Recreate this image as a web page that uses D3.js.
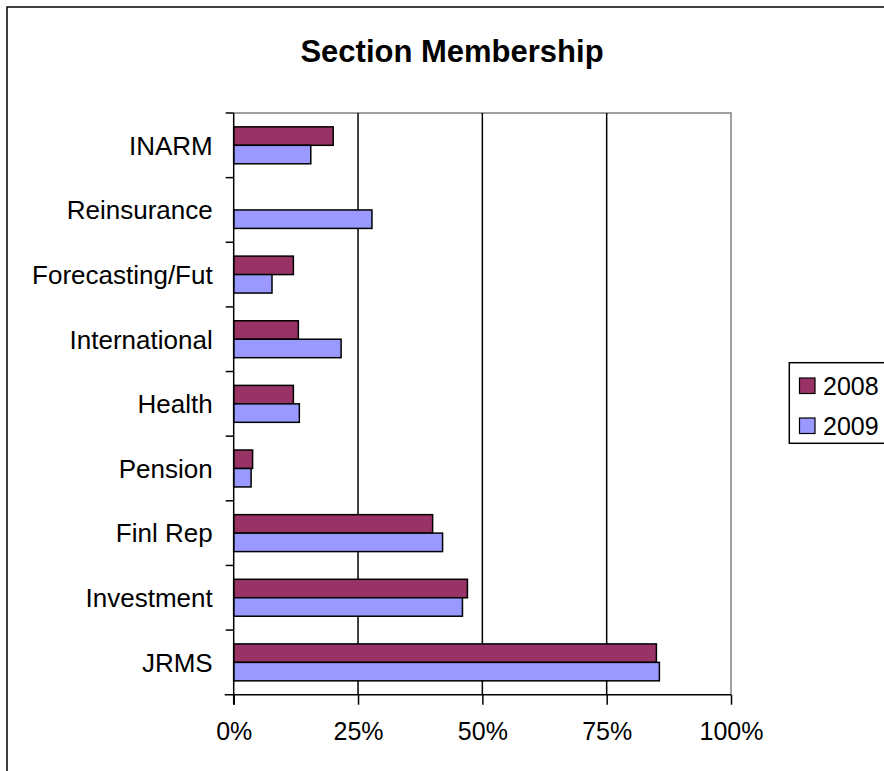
<!DOCTYPE html>
<html>
<head>
<meta charset="utf-8">
<script src="https://cdn.jsdelivr.net/npm/d3@7"></script>
<style>
  html, body { margin: 0; padding: 0; background: #fff; }
  svg { display: block; font-family: "Liberation Sans", Arial, sans-serif; }
</style>
</head>
<body>
<svg id="chart" width="884" height="771"></svg>
<script>
// Section membership by year, shares of total membership
const categories = ["INARM", "Reinsurance", "Forecasting/Fut", "International", "Health", "Pension", "Finl Rep", "Investment", "JRMS"];
const seriesNames = ["2008", "2009"];
const values2008 = [0.20, null, 0.12, 0.13, 0.12, 0.038, 0.40, 0.47, 0.85];
const values2009 = [0.155, 0.278, 0.077, 0.216, 0.132, 0.035, 0.42, 0.46, 0.856];
const xTicks = [0, 0.25, 0.5, 0.75, 1];
const colors = ["#993366", "#9999FF"];

const svg = d3.select("#chart");

// outer chart frame
svg.append("rect")
  .attr("x", 7).attr("y", 7).attr("width", 900).attr("height", 800)
  .attr("fill", "#fff").attr("stroke", "#000").attr("stroke-width", 1.5);

const plot = { left: 233.7, right: 731, top: 113, bottom: 694.7 };

const x = d3.scaleLinear().domain([0, 1]).range([plot.left, plot.right]);
const y = d3.scaleBand().domain(categories).range([plot.top, plot.bottom])
  .paddingInner(1.5 / 3.5).paddingOuter(0.75 / 3.5);
const ySeries = d3.scaleBand().domain(seriesNames).range([0, y.bandwidth()]);

// plot area border (top/right in grey)
svg.append("path")
  .attr("d", `M${plot.left},${plot.top}H${plot.right}V${plot.bottom}`)
  .attr("fill", "none").attr("stroke", "#808080").attr("stroke-width", 1.5);

// vertical gridlines
svg.append("g").selectAll("line")
  .data(xTicks.filter(t => t > 0 && t < 1))
  .join("line")
  .attr("x1", d => x(d)).attr("x2", d => x(d))
  .attr("y1", plot.top).attr("y2", plot.bottom)
  .attr("stroke", "#000").attr("stroke-width", 1.5);

// bars
const rows = categories.map((c, i) => ({ c, vals: [values2008[i], values2009[i]] }));
const groups = svg.append("g").selectAll("g")
  .data(rows).join("g")
  .attr("transform", d => `translate(0,${y(d.c)})`);

groups.selectAll("rect")
  .data(d => d.vals.map((v, j) => ({ v, s: seriesNames[j], j })).filter(e => e.v != null))
  .join("rect")
  .attr("x", x(0))
  .attr("y", d => ySeries(d.s))
  .attr("width", d => x(d.v) - x(0))
  .attr("height", ySeries.bandwidth())
  .attr("fill", d => colors[d.j])
  .attr("stroke", "#000").attr("stroke-width", 1.5);

// x axis
const xAxis = d3.axisBottom(x).tickValues(xTicks).tickFormat(d3.format(".0%"))
  .tickSize(10).tickSizeOuter(0).tickPadding(18);
const gx = svg.append("g").attr("transform", `translate(0,${plot.bottom})`).call(xAxis);
gx.select(".domain").remove();
gx.append("line").attr("x1", plot.left - 9).attr("x2", plot.right)
  .attr("stroke", "#000").attr("stroke-width", 1.5);
gx.selectAll(".tick line").attr("stroke", "#000").attr("stroke-width", 1.5);
gx.selectAll(".tick text").attr("fill", "#000").attr("font-size", 25)
  .attr("font-family", "Liberation Sans, Arial, sans-serif");

// y axis: line with ticks at category boundaries
const gy = svg.append("g");
gy.append("line").attr("x1", plot.left).attr("x2", plot.left)
  .attr("y1", plot.top).attr("y2", plot.bottom + 10)
  .attr("stroke", "#000").attr("stroke-width", 1.5);
const step = y.step();
gy.selectAll("line.tk")
  .data(d3.range(categories.length))
  .join("line").attr("class", "tk")
  .attr("x1", plot.left - 8).attr("x2", plot.left)
  .attr("y1", i => plot.top + i * step).attr("y2", i => plot.top + i * step)
  .attr("stroke", "#000").attr("stroke-width", 1.5);
gy.selectAll("text")
  .data(categories).join("text")
  .attr("x", 212.7)
  .attr("y", d => y(d) + y.bandwidth() / 2 + 9.3)
  .attr("text-anchor", "end")
  .attr("font-size", 26)
  .attr("fill", "#000")
  .text(d => d);

// title
svg.append("text")
  .attr("x", 452).attr("y", 62)
  .attr("text-anchor", "middle")
  .attr("font-size", 31).attr("font-weight", "bold")
  .text("Section Membership");

// legend
const lg = svg.append("g");
lg.append("rect").attr("x", 789.3).attr("y", 362.7).attr("width", 120).attr("height", 80.6)
  .attr("fill", "#fff").attr("stroke", "#000").attr("stroke-width", 1.5);
const items = lg.selectAll("g.item").data(seriesNames).join("g").attr("class", "item")
  .attr("transform", (d, i) => `translate(0,${i * 40})`);
items.append("rect").attr("x", 799.5).attr("y", 378).attr("width", 15.5).attr("height", 15.5)
  .attr("fill", (d, i) => colors[i]).attr("stroke", "#000").attr("stroke-width", 1.2);
items.append("text").attr("x", 823).attr("y", 394.5)
  .attr("font-size", 25).attr("fill", "#000").text(d => d);
</script>
</body>
</html>
